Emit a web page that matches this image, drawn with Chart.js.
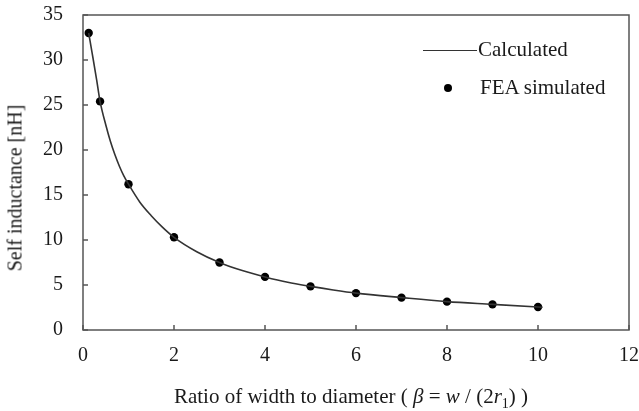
<!DOCTYPE html>
<html>
<head>
<meta charset="utf-8">
<script src="https://cdn.jsdelivr.net/npm/chart.js@4"></script>
<style>
  html, body { margin: 0; padding: 0; background: #fff; }
  #wrap { position: relative; width: 639px; height: 411px; font-family: "Liberation Serif", "Times New Roman", serif; color: #1a1a1a; }
  canvas { position: absolute; left: 0; top: 0; }
  .ytitle { position: absolute; left: 15px; top: 188px; transform: translate(-50%, -50%) rotate(-90deg); font-size: 20px; white-space: nowrap; }
  .xtitle { position: absolute; left: 351px; top: 398px; transform: translate(-50%, -50%); font-size: 21px; white-space: nowrap; }
  .legend { position: absolute; font-size: 21px; white-space: nowrap; }
  .legend .line { position: absolute; width: 54px; height: 0; border-top: 1.6px solid #333; }
  .legend .dot { position: absolute; width: 8px; height: 8px; border-radius: 50%; background: #000; }
</style>
</head>
<body>
<div id="wrap">
  <canvas id="chart" width="639" height="411"></canvas>
  <div class="ytitle">Self inductance [nH]</div>
  <div class="xtitle">Ratio of width to diameter ( <i>β</i> = <i>w</i> / (2<i>r</i><sub style="font-size:14px">1</sub>) )</div>
  <div class="legend" style="left:423px; top:50px;">
    <span class="line" style="left:0; top:0;"></span>
    <span style="position:absolute; left:55px; top:-13px;">Calculated</span>
  </div>
  <div class="legend" style="left:444px; top:88px;">
    <span class="dot" style="left:0; top:-4px;"></span>
    <span style="position:absolute; left:36px; top:-13px;">FEA simulated</span>
  </div>
</div>
<script>
// calculated curve
const calcX = [0.125, 0.2, 0.3, 0.375, 0.5, 0.6, 0.7, 0.8, 0.9, 1.0, 1.25, 1.5, 1.75, 2.0, 2.5, 3.0, 3.5, 4.0, 4.5, 5.0, 5.5, 6.0, 7.0, 8.0, 9.0, 10.0, 10.1];
const calcY = [33.0, 30.8, 27.8, 25.4, 22.8, 21.0, 19.5, 18.2, 17.1, 16.2, 14.2, 12.7, 11.4, 10.3, 8.7, 7.5, 6.6, 5.9, 5.3, 4.85, 4.45, 4.1, 3.6, 3.15, 2.85, 2.55, 2.52];

// FEA simulated points
const feaX = [0.125, 0.375, 1, 2, 3, 4, 5, 6, 7, 8, 9, 10];
const feaY = [33.0, 25.4, 16.2, 10.3, 7.5, 5.9, 4.85, 4.1, 3.6, 3.15, 2.85, 2.55];

const xTicks = [0, 2, 4, 6, 8, 10, 12];
const yTicks = [0, 5, 10, 15, 20, 25, 30, 35];

const axisColor = "#555";

// frame around plot area + inward tick marks
const framePlugin = {
  id: "frame",
  afterDatasetsDraw(chart) {
    const { ctx, chartArea: a, scales } = chart;
    ctx.save();
    ctx.strokeStyle = axisColor;
    ctx.lineWidth = 1.5;
    ctx.strokeRect(a.left, a.top, a.right - a.left, a.bottom - a.top);
    ctx.beginPath();
    xTicks.forEach(v => {
      const px = scales.x.getPixelForValue(v);
      ctx.moveTo(px, a.bottom);
      ctx.lineTo(px, a.bottom - 5);
    });
    yTicks.forEach(v => {
      const py = scales.y.getPixelForValue(v);
      ctx.moveTo(a.left, py);
      ctx.lineTo(a.left + 5, py);
    });
    ctx.stroke();
    ctx.restore();
  }
};

new Chart(document.getElementById("chart"), {
  type: "line",
  data: {
    datasets: [
      {
        label: "Calculated",
        data: calcX.map((x, i) => ({ x, y: calcY[i] })),
        borderColor: "#333",
        borderWidth: 1.6,
        pointRadius: 0,
        cubicInterpolationMode: "monotone",
        fill: false
      },
      {
        label: "FEA simulated",
        data: feaX.map((x, i) => ({ x, y: feaY[i] })),
        showLine: false,
        pointRadius: 4.2,
        pointBackgroundColor: "#000",
        pointBorderColor: "#000",
        pointBorderWidth: 0
      }
    ]
  },
  options: {
    responsive: false,
    animation: false,
    layout: { padding: { left: 0, top: 15, right: 10, bottom: 0 } },
    plugins: { legend: { display: false }, tooltip: { enabled: false } },
    scales: {
      x: {
        type: "linear",
        min: 0,
        max: 12,
        afterFit: s => { s.height = 81; s.paddingLeft = 0; s.paddingRight = 0; },
        afterBuildTicks: s => { s.ticks = xTicks.map(v => ({ value: v })); },
        grid: { display: false, drawTicks: false },
        border: { display: false },
        ticks: { padding: 14, color: "#1a1a1a", font: { family: "Liberation Serif", size: 20 } }
      },
      y: {
        min: 0,
        max: 35,
        afterFit: s => { s.width = 83; s.paddingTop = 0; s.paddingBottom = 0; },
        afterBuildTicks: s => { s.ticks = yTicks.map(v => ({ value: v })); },
        grid: { display: false, drawTicks: false },
        border: { display: false },
        ticks: { padding: 20, color: "#1a1a1a", font: { family: "Liberation Serif", size: 20 } }
      }
    }
  },
  plugins: [framePlugin]
});
</script>
</body>
</html>
